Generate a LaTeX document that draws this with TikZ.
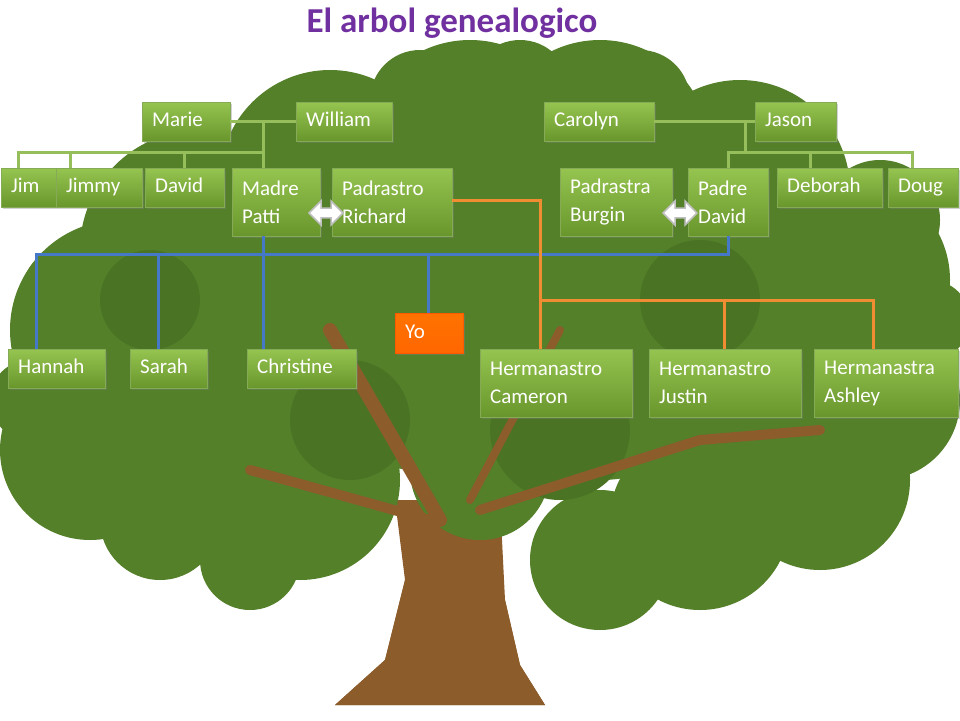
\documentclass[tikz,border=0pt]{standalone}
\usepackage{fontspec}
\setmainfont{Carlito}
\usetikzlibrary{shapes.arrows,shadows}
\definecolor{leaf}{RGB}{84,128,42}
\definecolor{leafdark}{RGB}{74,116,36}
\definecolor{bark}{RGB}{140,92,42}
\definecolor{boxtop}{RGB}{150,196,80}
\definecolor{boxbot}{RGB}{104,150,44}
\definecolor{gline}{RGB}{150,190,90}
\definecolor{bline}{RGB}{70,120,200}
\definecolor{oline}{RGB}{240,140,50}
\definecolor{title}{RGB}{112,48,160}
\tikzset{
  box/.style={anchor=north west, inner xsep=10pt, inner ysep=0pt, text=white, align=left,
    top color=boxtop, bottom color=boxbot, draw=boxbot!80!white,
    font=\fontsize{21}{28}\selectfont,
    drop shadow={opacity=0.35, shadow xshift=2pt, shadow yshift=-2pt}},
  onebox/.style={box, text height=14pt, text depth=4pt},
  orangebox/.style={onebox, top color=orange!90!red, bottom color=orange!80!red, draw=orange!70!red},
  green line/.style={gline, line width=3pt},
  blue line/.style={bline, line width=3pt},
  orange line/.style={oline, line width=3pt},
  twoway/.style={double arrow, draw=gray!50, fill=white, line width=1.5pt,
    minimum height=34pt, minimum width=24pt, double arrow head extend=4pt, inner sep=2pt}
}
\begin{document}
\begin{tikzpicture}[x=1pt,y=-1pt]
\useasboundingbox (0,0) rectangle (960,720);
\fill[white] (0,0) rectangle (960,720);
% tree
\fill[bark] (395,500) -- (500,500) -- (505,600) -- (520,665) -- (545,705) -- (335,705) -- (385,660) -- (405,580) -- cycle;
\foreach \x/\y/\r in {120/330/110,90/450/90,200/250/120,330/180/110,470/150/110,600/150/110,
  740/190/110,850/280/100,880/400/80,820/480/90,700/520/90,600/560/70,300/480/100,
  420/320/150,600/330/150,200/380/100,160/520/60,80/300/60,880/220/60,520/90/50,
  420/100/50,640/100/50,760/420/80,480/470/70,30/400/40,930/320/40,250/560/50,760/330/60}
  \fill[leaf] (\x,\y) circle (\r);
\foreach \x/\y/\r in {350/420/60,560/430/70,700/300/60,150/300/50}
  \fill[leafdark] (\x,\y) circle (\r);
\draw[bark, line width=14pt, line cap=round] (440,520) -- (330,330);
\draw[bark, line width=10pt, line cap=round] (430,520) -- (250,470);
\draw[bark, line width=10pt, line cap=round] (480,510) -- (700,440) -- (820,430);
\draw[bark, line width=8pt, line cap=round] (470,500) -- (560,330);
\fill[bark] (410,540) -- (495,540) -- (505,600) -- (520,665) -- (545,705) -- (335,705) -- (385,660) -- (405,580) -- cycle;
% title
\node[title, font=\fontsize{35}{40}\bfseries] (ttl) at (452,23) {El arbol genealogico};
% people
\node[onebox, minimum width=88, minimum height=39, text width=68] (marie) at (142,102) {Marie};
\node[onebox, minimum width=96, minimum height=39, text width=76] (william) at (296,102) {William};
\node[onebox, minimum width=110, minimum height=39, text width=90] (carolyn) at (544,102) {Carolyn};
\node[onebox, minimum width=81, minimum height=39, text width=61] (jason) at (755,102) {Jason};
\node[onebox, minimum width=55, minimum height=39, text width=35] (jim) at (1,168) {Jim};
\node[onebox, minimum width=86, minimum height=39, text width=66] (jimmy) at (56,168) {Jimmy};
\node[onebox, minimum width=79, minimum height=39, text width=59] (david) at (145,168) {David};
\node[box, minimum width=88, minimum height=68, text width=68] (patti) at (232,168) {Madre\\Patti};
\node[box, minimum width=120, minimum height=68, text width=100] (richard) at (332,168) {Padrastro\\Richard};
\node[box, minimum width=112, minimum height=68, text width=92] (burgin) at (560,168) {Padrastra\\Burgin};
\node[box, minimum width=80, minimum height=68, text width=60] (padre) at (688,168) {Padre\\David};
\node[onebox, minimum width=105, minimum height=39, text width=85] (deborah) at (777,168) {Deborah};
\node[onebox, minimum width=70, minimum height=39, text width=50] (doug) at (888,168) {Doug};
\node[orangebox, minimum width=68, minimum height=40, text width=48] (yo) at (395,313) {Yo};
\node[onebox, minimum width=97, minimum height=39, text width=77] (hannah) at (8,349) {Hannah};
\node[onebox, minimum width=77, minimum height=39, text width=57] (sarah) at (130,349) {Sarah};
\node[onebox, minimum width=109, minimum height=39, text width=89] (christine) at (247,349) {Christine};
\node[box, minimum width=152, minimum height=68, text width=132] (cameron) at (480,349) {Hermanastro\\Cameron};
\node[box, minimum width=152, minimum height=68, text width=132] (justin) at (649,349) {Hermanastro\\Justin};
\node[box, minimum width=144, minimum height=68, text width=124] (ashley) at (814,349) {Hermanastra\\Ashley};
% couples
\node[twoway] (pr) at (326,213) {};
\node[twoway] (bp) at (680,213) {};
% junctions
\coordinate (gl) at (263,152);
\coordinate (gr) at (745,152);
\coordinate (bl) at (36,254);
\coordinate (ol) at (540,300);
% green lines
\draw[green line] (marie.east) -- (william.west);
\draw[green line] (gl |- marie.east) -- (gl |- patti.north);
\draw[green line] (jim.north -| 18,0) |- (gl);
\draw[green line] (jimmy.north -| 70,0) -- (70,152);
\draw[green line] (david.north) -- (david.north |- gl);
\draw[green line] (carolyn.east) -- (jason.west);
\draw[green line] (gr |- carolyn.east) -- (gr);
\draw[green line] (padre.north -| 728,0) |- (912,152) -- (doug.north -| 912,0);
\draw[green line] (deborah.north -| 810,0) -- (810,152);
% blue lines
\draw[blue line] (padre.south -| 728,0) |- (bl) -- (hannah.north -| bl);
\draw[blue line] (sarah.north -| 158,0) -- (158,254);
\draw[blue line] (yo.north -| 428,0) -- (428,254);
\draw[blue line] (patti.south -| 263,0) -- (christine.north -| 263,0);
% orange lines
\draw[orange line] (richard.east |- 0,200) -| (ol) -- (cameron.north -| ol);
\draw[orange line] (ol) -| (ashley.north -| 873,0);
\draw[orange line] (justin.north -| 724,0) -- (724,300);
\end{tikzpicture}
\end{document}
